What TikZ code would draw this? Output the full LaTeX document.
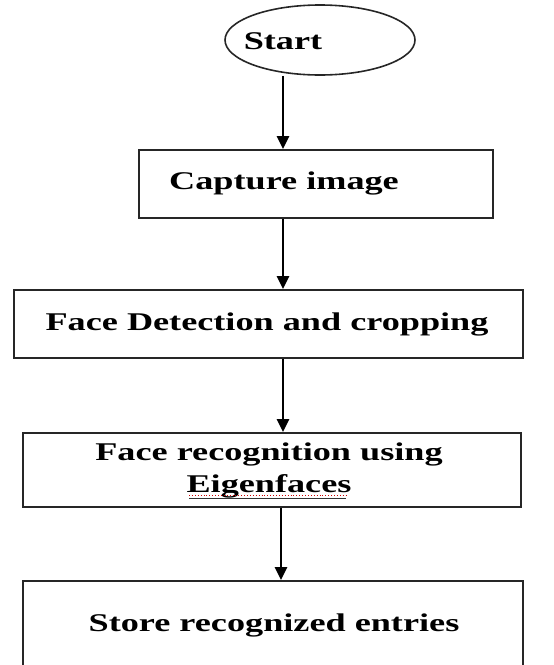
\documentclass[tikz,border=0pt]{standalone}
\usepackage{fontspec}
\setmainfont{Liberation Serif}[FakeStretch=1.42]
\usetikzlibrary{shapes.geometric,arrows.meta}
\begin{document}
\begin{tikzpicture}[x=1pt,y=-1pt,
  shapeline/.style={draw=black!85,line width=1.6pt},
  boxnode/.style={shapeline,rectangle,inner sep=0pt,anchor=north west},
  txt/.style={font=\fontsize{25.5}{32}\selectfont\bfseries,inner sep=0pt,align=center},
  arr/.style={line width=2.6pt,-{Triangle[width=12pt,length=13pt]}}]
\useasboundingbox (0,0) rectangle (554,665);
\begin{scope}
\clip (0,0) rectangle (554,665);
\node[shapeline,ellipse,minimum width=190pt,minimum height=70pt,inner sep=0pt] (start) at (320,40) {};
\node[txt] (starttxt) at (283,41) {Start};
\node[boxnode,minimum width=354pt,minimum height=68pt] (cap) at (138,149) {};
\node[txt] (captxt) at (284,183) {Capture image};
\node[boxnode,minimum width=509pt,minimum height=68pt] (det) at (13,289) {};
\node[txt] (dettxt) at (267,324) {Face Detection and cropping};
\node[boxnode,minimum width=498pt,minimum height=74pt] (rec) at (22,432) {};
\node[txt] (rectxt) at (269,470) {Face recognition using\\Eigenfaces};
\node[boxnode,minimum width=500pt,minimum height=110pt] (sto) at (22,580) {};
\node[txt] (stotxt) at (274,625) {Store recognized entries};
\coordinate (ax) at (283,0);
\coordinate (bx) at (281,0);
\draw[arr] (start.south -| ax) -- (cap.north -| ax);
\draw[arr] (cap.south -| ax) -- (det.north -| ax);
\draw[arr] (det.south -| ax) -- (rec.north -| ax);
\draw[arr] (rec.south -| bx) -- (sto.north -| bx);
\coordinate (ul1) at (189,498);
\coordinate (ul2) at (346,498);
\draw[black!80,line width=0.8pt] (ul1) -- (ul2);
\draw[red!80!black,line width=0.9pt,dotted] ([yshift=2.5pt]ul1) -- ([yshift=2.5pt]ul2);
\end{scope}
\end{tikzpicture}
\end{document}
